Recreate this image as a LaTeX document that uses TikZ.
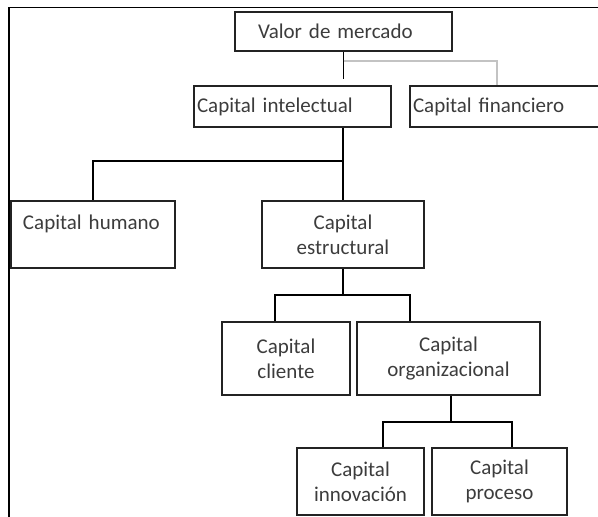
\documentclass[tikz,border=0pt]{standalone}
\usepackage{fontspec}
\setmainfont{Carlito}
\usetikzlibrary{calc}
\definecolor{ink}{RGB}{35,35,35}
\definecolor{txt}{RGB}{60,60,60}
\definecolor{branchgray}{RGB}{195,195,195}
\begin{document}
\begin{tikzpicture}[x=1pt,y=-1pt,
  box/.style={draw=ink, line width=1.5pt, rectangle, inner sep=0pt,
    align=center, text=txt, font=\fontsize{21}{25}\selectfont},
  leftbox/.style={box, align=left, inner xsep=3pt},
  link/.style={draw=black, line width=1.8pt},
  graylink/.style={draw=branchgray, line width=1.8pt}]
\useasboundingbox (0,0) rectangle (598,517);
\clip (0,0) rectangle (598,517);

% outer frame (left and top edges only)
\draw[line width=1.2pt] (9,517) |- (598,7.5);

% boxes
\node[leftbox, inner xsep=23pt, text width=171pt, minimum height=39pt] (valor) at (343.5,31.5) {Valor de mercado};
\node[leftbox, text width=191pt, minimum height=41pt] (intel) at (292.5,106.5) {Capital intelectual};
\node[leftbox, text width=204pt, minimum height=41pt] (fin) at (515,106.5) {Capital financiero};
\node[leftbox, inner xsep=12pt, text width=140pt, minimum height=67pt] (hum) at (93,234.5) {Capital humano\\~};
\node[box, minimum width=162pt, minimum height=67pt] (est) at (343,234.5) {Capital\\estructural};
\node[box, minimum width=128pt, minimum height=73pt] (cli) at (286,358.5) {Capital\\cliente};
\node[box, minimum width=183pt, minimum height=73pt] (org) at (448.5,358.5) {Capital\\organizacional};
\node[box, minimum width=127pt, minimum height=67pt] (inn) at (360.5,481.5) {Capital\\innovación};
\node[box, minimum width=135pt, minimum height=67pt] (pro) at (499.5,481.5) {Capital\\proceso};

% top level: market value splits into intellectual and financial capital
\coordinate (vend) at ($(valor.south)+(0,27)$);
\draw[link] (valor.south) -- (vend);
\draw[graylink] ($(valor.south)+(0,9)$) -| ([xshift=88pt]fin.north west);

% intellectual capital: human and structural
\draw[link] (intel.south -| est.north) -- (est.north);
\draw[link] (est.north |- 0,161) -| (hum.north);

% structural capital: client and organizational
\coordinate (e1) at ($(est.south)+(0,26)$);
\draw[link] (est.south) -- (e1);
\draw[link] ([xshift=54pt]cli.north west) |- (e1) -| ([xshift=54pt]org.north west);

% organizational capital: innovation and process
\coordinate (o1) at ($(org.south)+(2.5,26)$);
\draw[link] ([xshift=2.5pt]org.south) -- (o1);
\draw[link] ([xshift=22.5pt]inn.north) |- (o1) -| ([xshift=12.5pt]pro.north);
\end{tikzpicture}
\end{document}
